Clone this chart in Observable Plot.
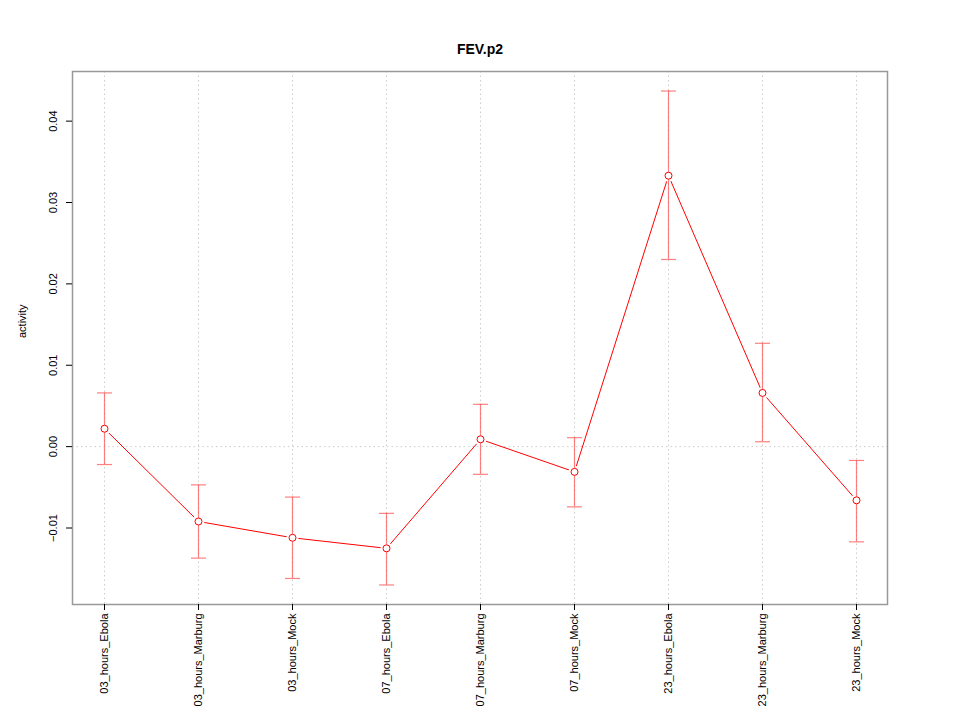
<!DOCTYPE html>
<html><head><meta charset="utf-8">
<script src="https://cdn.jsdelivr.net/npm/d3@7"></script>
<script src="https://cdn.jsdelivr.net/npm/@observablehq/plot@0.6"></script>
<style>body{margin:0;background:#fff;font-family:"Liberation Sans",Arial,sans-serif;}</style>
</head><body><div id="chart"></div>
<script>
const categories = ["03_hours_Ebola","03_hours_Marburg","03_hours_Mock","07_hours_Ebola","07_hours_Marburg","07_hours_Mock","23_hours_Ebola","23_hours_Marburg","23_hours_Mock"];
const means = [0.0022,-0.0092,-0.0112,-0.0125,0.0009,-0.0031,0.0333,0.0066,-0.0066];
const upper = [0.0066,-0.0047,-0.0062,-0.0082,0.0052,0.0011,0.0437,0.0127,-0.0017];
const lower = [-0.0022,-0.0137,-0.0162,-0.0170,-0.0034,-0.0074,0.0230,0.0006,-0.0117];
const yTicks = [-0.01,0,0.01,0.02,0.03,0.04];
const yDomain = [-0.0194,0.0461];
const title = "FEV.p2";
const yLabel = "activity";

const data = categories.map((c,i)=>({cat:c, mean:means[i], hi:upper[i], lo:lower[i]}));
const capSymbol = {draw(ctx){ ctx.moveTo(-7.5,0); ctx.lineTo(7.5,0); }};
const ebColor = "#ff5555";
const W = 960, ML = 72, MR = 73;

const plot = Plot.plot({
  width:W, height:720,
  marginLeft:ML, marginRight:MR, marginTop:71, marginBottom:116,
  style:{fontFamily:"'Liberation Sans', Arial, sans-serif", fontSize:"11px", background:"#fff", overflow:"visible"},
  x:{type:"point", domain:categories, padding:0.31},
  y:{domain:yDomain},
  marks:[
    Plot.ruleX(categories,{x:d=>d, stroke:"#ccc", strokeDasharray:"1.5,3", strokeWidth:1}),
    Plot.ruleY([0],{stroke:"#ccc", strokeDasharray:"1.5,3", strokeWidth:1}),
    Plot.frame({stroke:"#999", strokeWidth:1.5}),
    Plot.ruleX([0],{y1:yTicks[0], y2:yTicks[yTicks.length-1], dx:-(W-ML-MR)/2, stroke:"#555", strokeWidth:1.5}),
    Plot.ruleY([yDomain[0]],{x1:categories[0], x2:categories[categories.length-1], stroke:"#555", strokeWidth:1.5}),
    Plot.line(data,{x:"cat", y:"mean", stroke:"red", strokeWidth:1}),
    Plot.dot(data,{x:"cat", y:"mean", r:6, fill:"white", stroke:null}),
    Plot.ruleX(data,{x:"cat", y1:"lo", y2:"hi", stroke:ebColor, strokeOpacity:0.75, strokeWidth:1.2}),
    Plot.dot(data,{x:"cat", y:"hi", symbol:capSymbol, stroke:ebColor, strokeOpacity:0.75, strokeWidth:1.2, fill:"none"}),
    Plot.dot(data,{x:"cat", y:"lo", symbol:capSymbol, stroke:ebColor, strokeOpacity:0.75, strokeWidth:1.2, fill:"none"}),
    Plot.dot(data,{x:"cat", y:"mean", r:3.5, fill:"white", stroke:"red", strokeWidth:1}),
    Plot.axisY({ticks:yTicks, tickFormat:d3.format(".2f"), tickSize:6, tickRotate:-90, tickPadding:10, label:null, color:"#000"}),
    Plot.axisX({tickSize:6, tickRotate:-90, tickPadding:3, label:null, color:"#000"}),
    Plot.text([title],{frameAnchor:"top", dy:-27, fontSize:14, fontWeight:"bold", fill:"#000"}),
    Plot.text([yLabel],{frameAnchor:"left", dx:-50, rotate:-90, fontSize:11, fill:"#000"})
  ]
});
document.getElementById("chart").appendChild(plot);
</script></body></html>
